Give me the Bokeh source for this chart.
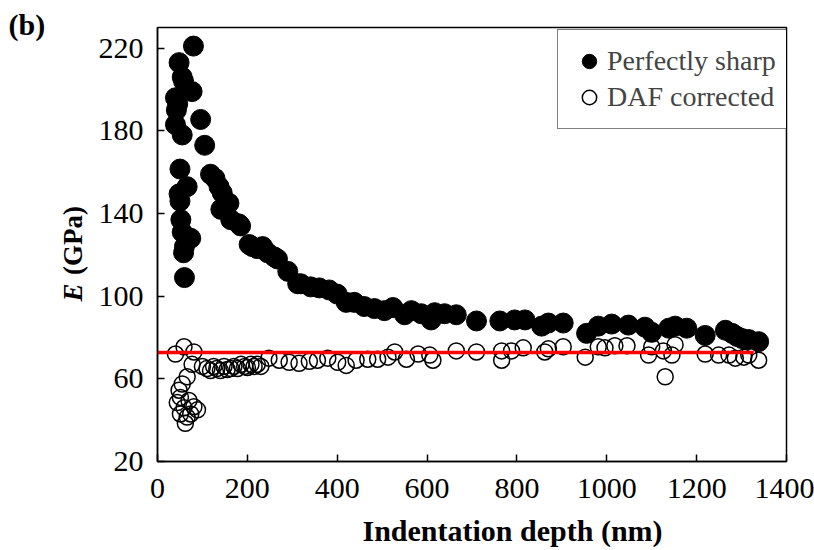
import math
from bokeh.plotting import figure
from bokeh.models import FixedTicker, Legend, LegendItem, Range1d, Title
from bokeh.layouts import row
from bokeh.core.properties import value
from bokeh.embed import file_html
from bokeh.resources import INLINE

# ---- data ----
sharp_x = [40, 42, 45, 48, 55, 58, 77, 80, 40, 55,
           96, 105, 50, 66, 48, 50, 52, 55, 74, 60,
           58, 60, 118, 128, 137, 144, 141, 152, 159, 163,
           181, 185, 204, 211, 222, 234, 245, 260, 267, 290,
           312, 319, 341, 360, 382, 400, 420, 438, 460, 483,
           505, 524, 550, 565, 587, 609, 617, 639, 665, 710,
           762, 795, 818, 855, 870, 903, 955, 981, 1011, 1048,
           1085, 1100, 1138, 1152, 1178, 1219, 1264, 1279, 1290, 1301,
           1316, 1338]
sharp_y = [196, 190, 193, 213, 206, 204, 199, 221, 183, 178,
           185.5, 173, 161.5, 153, 149.5, 146, 137, 131, 128, 124,
           121, 109, 159, 157, 153, 150, 142, 143, 145, 137,
           135, 134, 125, 124, 123, 124, 121, 119, 118, 112,
           106, 106, 104.5, 104, 103, 101, 97, 97, 95, 94,
           93, 94.5, 91, 93, 91.5, 88.5, 92, 91.5, 91, 88,
           88, 88.5, 88.5, 85.5, 87, 87, 82, 85.5, 86.5, 86,
           85, 82.5, 84.5, 85.5, 84.5, 81, 83.5, 82, 80.5, 79.5,
           79, 78]

daf_x = [40, 59, 81, 77, 66, 55, 48, 51, 70, 44,
         59, 81, 51, 66, 62, 74, 89, 100, 110, 118,
         125, 132, 140, 148, 155, 163, 170, 178, 186, 194,
         200, 208, 215, 222, 230, 248, 271, 293, 315, 338,
         356, 379, 401, 420, 442, 468, 490, 513, 528, 554,
         580, 606, 613, 665, 710, 766, 766, 788, 814, 862,
         870, 903, 952, 981, 996, 1018, 1045, 1093, 1100, 1126,
         1130, 1145, 1152, 1219, 1249, 1272, 1286, 1305, 1316, 1338]
daf_y = [72, 75.5, 73, 67, 61, 57.5, 54.5, 51, 49.5, 48.5,
         46, 46.5, 43, 41.5, 38.5, 43, 45, 66, 65, 64,
         66, 65, 64, 66, 64.5, 65, 66, 65, 67, 66,
         65.5, 67, 66, 67, 66, 70, 69, 68, 67.5, 68.5,
         69, 70, 68, 66.5, 69, 69.5, 69.5, 70.5, 73, 69.5,
         72, 71.5, 69, 73.5, 73, 73.5, 69, 73.5, 75, 73,
         74.5, 75.5, 70.5, 75.5, 75, 76, 76, 71.5, 75.5, 73.5,
         61, 71.5, 76.5, 72, 71.5, 71.5, 70, 70.5, 71.5, 69]

fit_x = [0, 1327]
fit_y = [72.8, 72.8]

x_ticks = [0, 200, 400, 600, 800, 1000, 1200, 1400]
y_ticks = [20, 60, 100, 140, 180, 220]

panel_tag = "(b)"
y_title_sym = "E"
y_title_unit = "(GPa)"
x_title = "Indentation depth (nm)"

FONT = "Liberation Serif"

# ---- left strip holding the panel tag and the y-axis title ----
lf = figure(frame_width=90, frame_height=500, output_backend="svg", toolbar_location=None,
            x_axis_type=None, y_axis_type=None,
            x_range=Range1d(0, 90), y_range=Range1d(23, 523),
            min_border_left=0, min_border_right=0, min_border_top=0, min_border_bottom=0,
            background_fill_color="white", border_fill_color="white")
lf.outline_line_color = None
lf.add_layout(Title(text=panel_tag, align="left", offset=8, standoff=-26,
                    vertical_align="bottom",
                    text_font=FONT, text_font_size="30px", text_font_style="bold",
                    text_color="black"), "above")
lf.text(x=[72], y=[258], text=[y_title_sym], angle=math.pi / 2, text_font=value(FONT),
        text_font_style="bold italic", text_font_size="27px",
        text_align="center", text_baseline="middle", text_color="black")
lf.text(x=[72], y=[310], text=[y_title_unit], angle=math.pi / 2, text_font=value(FONT),
        text_font_style="bold", text_font_size="27px",
        text_align="center", text_baseline="middle", text_color="black")

# ---- main plot ----
p = figure(frame_width=629, frame_height=434, output_backend="svg", toolbar_location=None,
           x_range=Range1d(0, 1400), y_range=Range1d(20, 230),
           min_border_left=67, min_border_right=28, min_border_top=27, min_border_bottom=0,
           background_fill_color="white", border_fill_color="white")

p.xgrid.visible = False
p.ygrid.visible = False
p.outline_line_color = "black"
p.outline_line_width = 1.5
p.outline_line_alpha = 1.0

p.xaxis.ticker = FixedTicker(ticks=x_ticks)
p.yaxis.ticker = FixedTicker(ticks=y_ticks)
for ax in (p.xaxis[0], p.yaxis[0]):
    ax.axis_line_color = "black"
    ax.axis_line_width = 1.5
    ax.major_tick_in = 7
    ax.major_tick_out = 0
    ax.major_tick_line_width = 1.5
    ax.major_tick_line_color = "black"
    ax.minor_tick_in = 0
    ax.minor_tick_out = 0
    ax.major_label_text_font = FONT
    ax.major_label_text_font_size = "30px"
    ax.major_label_text_color = "black"

p.xaxis.major_label_standoff = 17
p.yaxis.major_label_standoff = 14

p.add_layout(Title(text=x_title, align="left", offset=205, standoff=22,
                   text_font=FONT, text_font_size="30px", text_font_style="bold",
                   text_color="black"), "below")

r1 = p.scatter(sharp_x, sharp_y, size=20, marker="circle",
               fill_color="black", line_color="black", line_width=1)
r2 = p.scatter(daf_x, daf_y, size=16, marker="circle",
               fill_color=None, line_color="black", line_width=1.5)
p.line(fit_x, fit_y, line_color="red", line_width=3.5)

legend = Legend(items=[LegendItem(label="Perfectly sharp", renderers=[r1]),
                       LegendItem(label="DAF corrected", renderers=[r2])],
                location=(400, 332))
legend.label_text_font = FONT
legend.label_text_font_size = "28px"
legend.glyph_width = 36
legend.glyph_height = 36
legend.label_height = 36
legend.spacing = 0
legend.padding = 13
legend.margin = 0
legend.label_standoff = 0
legend.border_line_color = "black"
legend.border_line_width = 1
legend.background_fill_alpha = 1.0
p.add_layout(legend)

layout = row(lf, p)
open("out.html", "w").write(file_html(layout, INLINE))
